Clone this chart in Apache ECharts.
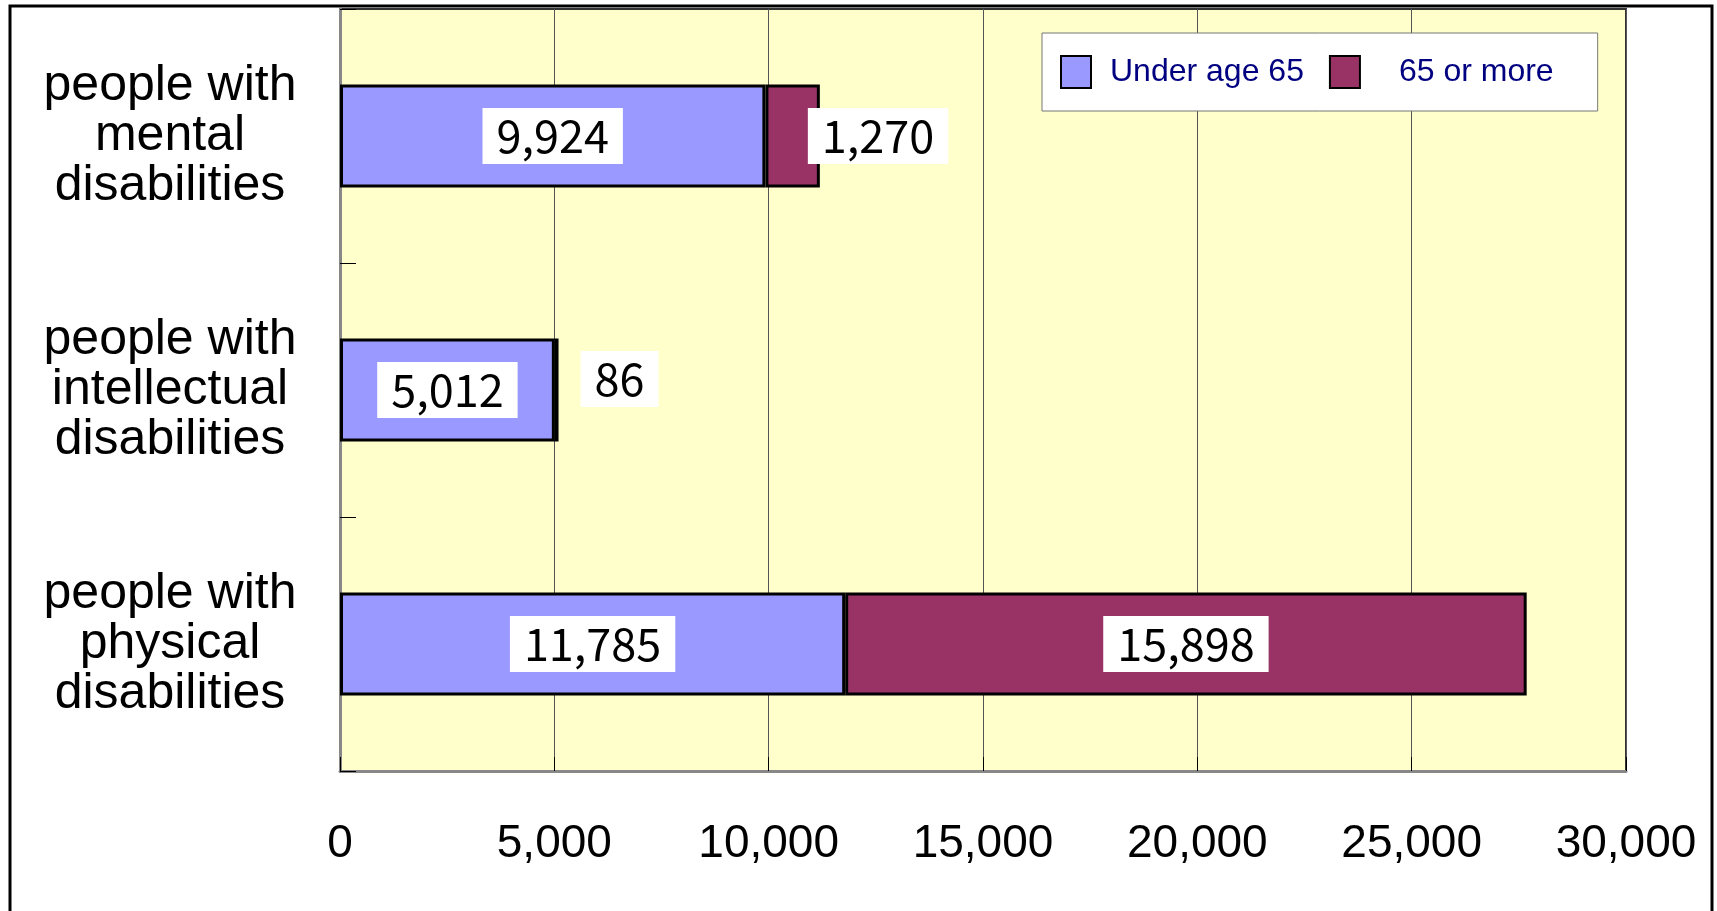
<!DOCTYPE html>
<html>
<head>
<meta charset="utf-8">
<script src="https://cdn.jsdelivr.net/npm/echarts@6/dist/echarts.min.js"></script>
<style>
  html, body { margin: 0; padding: 0; background: #fff; }
  #chart { width: 1717px; height: 911px; }
</style>
</head>
<body>
<div id="chart"></div>
<script>
  // categories (top to bottom)
  const categories = [
    'people with\nmental\ndisabilities',
    'people with\nintellectual\ndisabilities',
    'people with\nphysical\ndisabilities'
  ]
  const under65 = [9924, 5012, 11785]
  const over65 = [1270, 86, 15898]
  const seriesNames = ['Under age 65', '65 or more']
  const xTicks = [0, 5000, 10000, 15000, 20000, 25000, 30000]

  const chart = echarts.init(document.getElementById('chart'))

  // 白底数值标签
  const labelBox = {
    show: true,
    color: '#000',
    fontFamily: '"Noto Sans CJK JP", sans-serif',
    fontSize: 45,
    lineHeight: 46,
    backgroundColor: '#fff',
    padding: [5, 14],
    formatter: p => p.value.toLocaleString('en-US')
  }

  const option = {
    animation: false,
    backgroundColor: '#fff',
    graphic: [{
      type: 'rect',
      shape: { x: 10, y: 6, width: 1702, height: 912 },
      style: { fill: 'none', stroke: '#000', lineWidth: 3 },
      z: 100
    }],
    legend: {
      left: 1042,
      top: 33,
      padding: [22, 44, 22, 18],
      backgroundColor: '#fff',
      borderColor: '#777',
      borderWidth: 1,
      itemWidth: 30,
      itemHeight: 32,
      itemGap: 25,
      icon: 'rect',
      textStyle: {
        color: '#000080',
        fontFamily: '"Liberation Sans", Arial, sans-serif',
        fontSize: 32,
        padding: [0, 0, 0, 14]
      },
      data: [
        { name: seriesNames[0] },
        { name: seriesNames[1], textStyle: { padding: [0, 0, 0, 34] } }
      ]
    },
    grid: {
      left: 340,
      right: 91,
      top: 9,
      bottom: 140,
      show: true,
      backgroundColor: '#FFFFCC',
      borderColor: '#333',
      borderWidth: 2
    },
    xAxis: {
      type: 'value',
      min: xTicks[0],
      max: xTicks[xTicks.length - 1],
      interval: 5000,
      axisLine: { show: true, lineStyle: { color: '#888', width: 3 } },
      axisTick: { show: true, inside: true, length: 14, lineStyle: { color: '#000' } },
      splitLine: { show: true, lineStyle: { color: '#555', width: 1 } },
      axisLabel: {
        margin: 50,
        color: '#000',
        fontFamily: '"Liberation Sans", Arial, sans-serif',
        fontSize: 46,
        formatter: v => v.toLocaleString('en-US')
      }
    },
    yAxis: {
      type: 'category',
      inverse: true,
      data: categories,
      axisLine: { show: true, lineStyle: { color: '#888', width: 3 } },
      axisTick: { show: true, inside: true, length: 16, lineStyle: { color: '#000' } },
      axisLabel: {
        margin: 170,
        color: '#000',
        align: 'center',
        fontFamily: '"Liberation Sans", Arial, sans-serif',
        fontSize: 50,
        lineHeight: 50
      }
    },
    series: [{
      name: seriesNames[0],
      type: 'bar',
      stack: 'total',
      barWidth: 103,
      data: under65,
      itemStyle: { color: '#9999FF', borderColor: '#000', borderWidth: 3 },
      label: Object.assign({ position: 'inside' }, labelBox)
    }, {
      name: seriesNames[1],
      type: 'bar',
      stack: 'total',
      barWidth: 103,
      // 数值太小的段，标签放到柱子右侧
      data: over65.map(v => v < 3000
        ? { value: v, label: { position: 'right', distance: v < 500 ? 22 : -12, offset: [0, v < 500 ? -11 : 0] } }
        : v),
      itemStyle: { color: '#993366', borderColor: '#000', borderWidth: 3 },
      label: Object.assign({ position: 'inside' }, labelBox)
    }]
  }
  chart.setOption(option)
</script>
</body>
</html>
